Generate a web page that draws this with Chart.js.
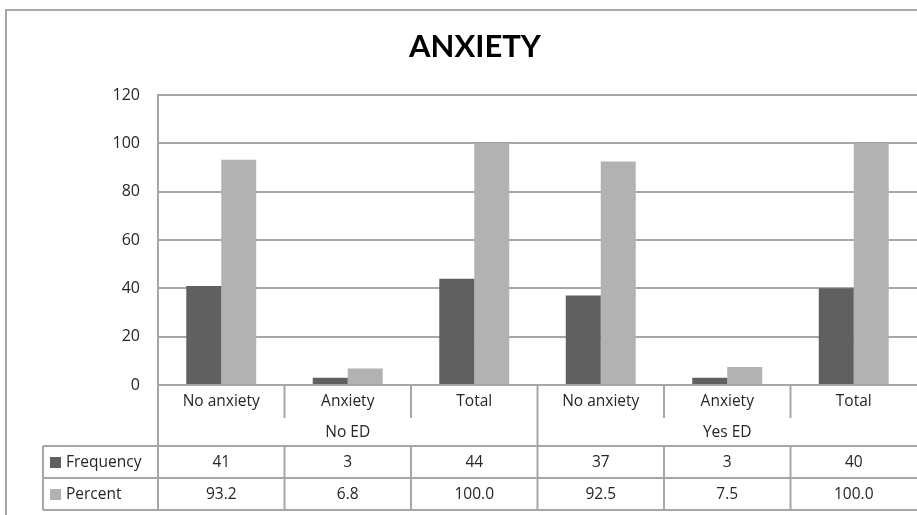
<!DOCTYPE html>
<html>
<head>
<meta charset="utf-8">
<title>ANXIETY</title>
<script src="https://cdn.jsdelivr.net/npm/chart.js@4.4.1/dist/chart.umd.min.js"></script>
<style>
    html, body { margin: 0; padding: 0; background: #fff; }
    #wrap { width: 917px; height: 515px; position: relative; }
</style>
</head>
<body>
<div id="wrap"><canvas id="anxietyChart"></canvas></div>
<script>
// Chart data
const categories = ['No anxiety', 'Anxiety', 'Total', 'No anxiety', 'Anxiety', 'Total'];
const groups = ['No ED', 'Yes ED'];
const frequency = [41, 3, 44, 37, 3, 40];
const percent = [93.2, 6.8, 100.0, 92.5, 7.5, 100.0];
const yTicks = [0, 20, 40, 60, 80, 100, 120];

const darkGray = '#606060';
const lightGray = '#b2b2b2';
const lineGray = '#a6a6a6';
const textColor = '#262626';
const font = '"Open Sans", "Noto Sans", sans-serif';
const titleFont = 'Lato, "Noto Sans", sans-serif';

// Draws the title, the outer frame and the Excel-style data table
const dataTablePlugin = {
    id: 'dataTable',
    afterDraw: function(chart) {
        const ctx = chart.ctx;
        const x = chart.scales.x;
        const area = chart.chartArea;
        const half = (x.getPixelForValue(1) - x.getPixelForValue(0)) / 2;
        const edge = function(i) { return x.getPixelForValue(i) - half; };

        const rowTop = area.bottom;
        const row2 = 446, row3 = 478, rowEnd = 510, tableLeft = 43;

        ctx.save();
        // outer frame
        ctx.strokeStyle = '#8c8c8c';
        ctx.lineWidth = 1.5;
        ctx.beginPath();
        ctx.moveTo(6, 515);
        ctx.lineTo(6, 10);
        ctx.lineTo(917, 10);
        ctx.stroke();

        // title
        ctx.fillStyle = '#000';
        ctx.font = 'bold 31px ' + titleFont;
        ctx.textAlign = 'center';
        ctx.textBaseline = 'middle';
        ctx.fillText('ANXIETY', 475, 47);

        // table lines
        ctx.strokeStyle = lineGray;
        ctx.lineWidth = 2;
        ctx.beginPath();
        [row2, row3, rowEnd].forEach(function(y) {
            ctx.moveTo(tableLeft, y);
            ctx.lineTo(area.right, y);
        });
        ctx.moveTo(tableLeft, row2);
        ctx.lineTo(tableLeft, rowEnd);
        ctx.moveTo(area.left, rowTop);
        ctx.lineTo(area.left, rowEnd);
        for (let i = 1; i < categories.length; i++) {
            const px = edge(i);
            if (i === 3) {
                ctx.moveTo(px, rowTop);
                ctx.lineTo(px, rowEnd);
            } else {
                ctx.moveTo(px, rowTop);
                ctx.lineTo(px, 418);
                ctx.moveTo(px, row2);
                ctx.lineTo(px, rowEnd);
            }
        }
        ctx.stroke();

        // category labels, group labels and values
        ctx.fillStyle = textColor;
        ctx.font = '15.5px ' + font;
        categories.forEach(function(c, i) {
            const cx = x.getPixelForValue(i);
            ctx.fillText(c, cx, 402);
            ctx.fillText(String(frequency[i]), cx, 463);
            ctx.fillText(percent[i].toFixed(1), cx, 495);
        });
        groups.forEach(function(g, gi) {
            const cx = (edge(gi * 3) + edge(gi * 3 + 3)) / 2;
            ctx.fillText(g, cx, 433);
        });

        // legend keys
        ctx.textAlign = 'left';
        ctx.fillStyle = darkGray;
        ctx.fillRect(50, 457, 11, 11);
        ctx.fillStyle = lightGray;
        ctx.fillRect(50, 489, 11, 11);
        ctx.fillStyle = textColor;
        ctx.fillText('Frequency', 66, 463);
        ctx.fillText('Percent', 66, 495);
        ctx.restore();
    }
};

new Chart(document.getElementById('anxietyChart'), {
    type: 'bar',
    data: {
        labels: categories,
        datasets: [
            {
                label: 'Frequency',
                data: frequency,
                backgroundColor: darkGray,
                borderWidth: 0,
                categoryPercentage: 0.553,
                barPercentage: 1.0
            },
            {
                label: 'Percent',
                data: percent,
                backgroundColor: lightGray,
                borderWidth: 0,
                categoryPercentage: 0.553,
                barPercentage: 1.0
            }
        ]
    },
    options: {
        responsive: true,
        maintainAspectRatio: false,
        animation: false,
        layout: {
            padding: { top: 95, bottom: 130, left: 0, right: 0 }
        },
        plugins: {
            legend: { display: false },
            title: { display: false },
            tooltip: { enabled: false }
        },
        scales: {
            x: {
                display: false
            },
            y: {
                min: 0,
                max: 120,
                afterFit: function(scale) {
                    scale.width = 158;
                },
                afterBuildTicks: function(scale) {
                    scale.ticks = yTicks.map(function(v) { return { value: v }; });
                },
                ticks: {
                    color: textColor,
                    padding: 18,
                    font: { family: font, size: 16 }
                },
                grid: {
                    color: lineGray,
                    lineWidth: 2,
                    drawTicks: false
                },
                border: {
                    color: lineGray,
                    width: 2
                }
            }
        }
    },
    plugins: [dataTablePlugin]
});
</script>
</body>
</html>
